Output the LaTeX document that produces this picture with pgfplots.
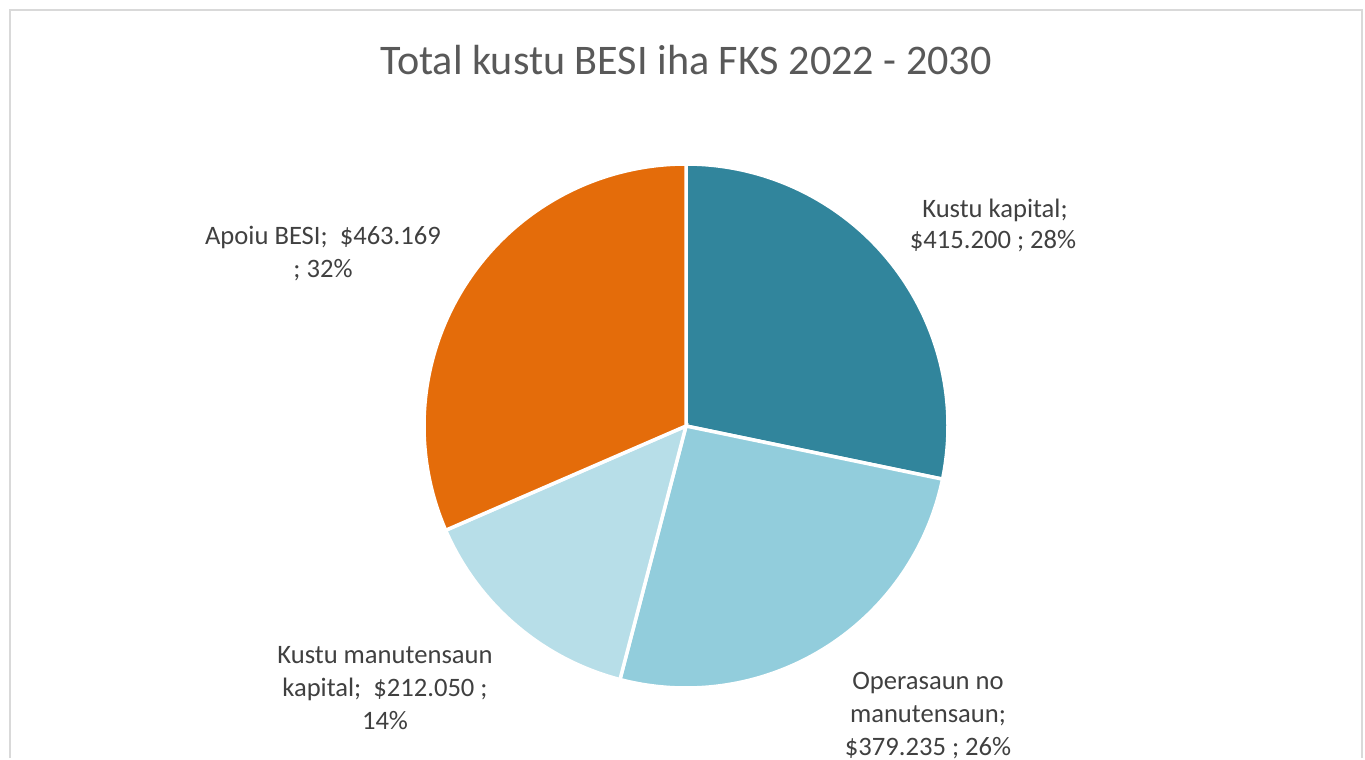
\documentclass[border=0pt]{standalone}
\usepackage{pgfplots}
\usepackage{pgfplotstable}
\usepackage{fontspec}
\setmainfont{Carlito}
\pgfplotsset{compat=1.18}
\definecolor{cA}{HTML}{31859C}
\definecolor{cB}{HTML}{92CDDC}
\definecolor{cC}{HTML}{B7DEE8}
\definecolor{cD}{HTML}{E46C0A}
\definecolor{tgray}{HTML}{595959}
\definecolor{lgray}{HTML}{404040}
\definecolor{fgray}{HTML}{D9D9D9}
\pgfplotstableread{
idx value
1 415.200
2 379.235
3 212.050
4 463.169
}\piedata
\pgfplotstablegetelem{0}{value}\of\piedata \let\va\pgfplotsretval
\pgfplotstablegetelem{1}{value}\of\piedata \let\vb\pgfplotsretval
\pgfplotstablegetelem{2}{value}\of\piedata \let\vc\pgfplotsretval
\pgfplotstablegetelem{3}{value}\of\piedata \let\vd\pgfplotsretval
\pgfmathsetmacro\tot{\va+\vb+\vc+\vd}
\pgfmathsetmacro\aA{90-360*(\va/\tot)}
\pgfmathsetmacro\aB{\aA-360*(\vb/\tot)}
\pgfmathsetmacro\aC{\aB-360*(\vc/\tot)}
\pgfmathsetmacro\aD{\aC-360*(\vd/\tot)}
\def\cx{686}
\def\cy{332}
\def\R{262}
\begin{document}
\begin{tikzpicture}
\begin{axis}[
  width=1365bp, height=758bp, scale only axis,
  xmin=0, xmax=1365, ymin=0, ymax=758,
  hide axis, clip=false,
]
\path (axis cs:0,0) rectangle (axis cs:1365,758);
\draw[fgray, line width=2bp] (axis cs:9.5,0) -- (axis cs:9.5,748) -- (axis cs:1362,748) -- (axis cs:1362,0);
\addplot[fill=cA, draw=white, line width=3.5bp, domain=\aA:90, samples=120, variable=\t]
  ({\cx+\R*cos(\t)},{\cy+\R*sin(\t)}) -- (axis cs:\cx,\cy) -- cycle;
\addplot[fill=cB, draw=white, line width=3.5bp, domain=\aB:\aA, samples=120, variable=\t]
  ({\cx+\R*cos(\t)},{\cy+\R*sin(\t)}) -- (axis cs:\cx,\cy) -- cycle;
\addplot[fill=cC, draw=white, line width=3.5bp, domain=\aC:\aB, samples=120, variable=\t]
  ({\cx+\R*cos(\t)},{\cy+\R*sin(\t)}) -- (axis cs:\cx,\cy) -- cycle;
\addplot[fill=cD, draw=white, line width=3.5bp, domain=\aD:\aC, samples=120, variable=\t]
  ({\cx+\R*cos(\t)},{\cy+\R*sin(\t)}) -- (axis cs:\cx,\cy) -- cycle;
% title
\node[anchor=base, text=tgray, font=\fontsize{42.3}{50}\selectfont, inner sep=0pt] at (axis cs:686,683) {Total kustu BESI iha FKS 2022 - 2030};
% labels
\tikzset{lab/.style={anchor=base, text=lgray, font=\fontsize{26.7}{32.5}\selectfont, inner sep=0pt}}
\node[lab] at (axis cs:995,540) {Kustu kapital;};
\node[lab] at (axis cs:993,509) {\$415.200 ; 28\%};
\node[lab] at (axis cs:323,513) {Apoiu BESI;~ \$463.169};
\node[lab] at (axis cs:323,480) {; 32\%};
\node[lab] at (axis cs:385,95) {Kustu manutensaun};
\node[lab] at (axis cs:385,62) {kapital;~ \$212.050 ;};
\node[lab] at (axis cs:385,29) {14\%};
\node[lab] at (axis cs:928,69) {Operasaun no};
\node[lab] at (axis cs:928,36) {manutensaun;};
\node[lab] at (axis cs:928,3) {\$379.235 ; 26\%};
\end{axis}
\end{tikzpicture}
\end{document}
